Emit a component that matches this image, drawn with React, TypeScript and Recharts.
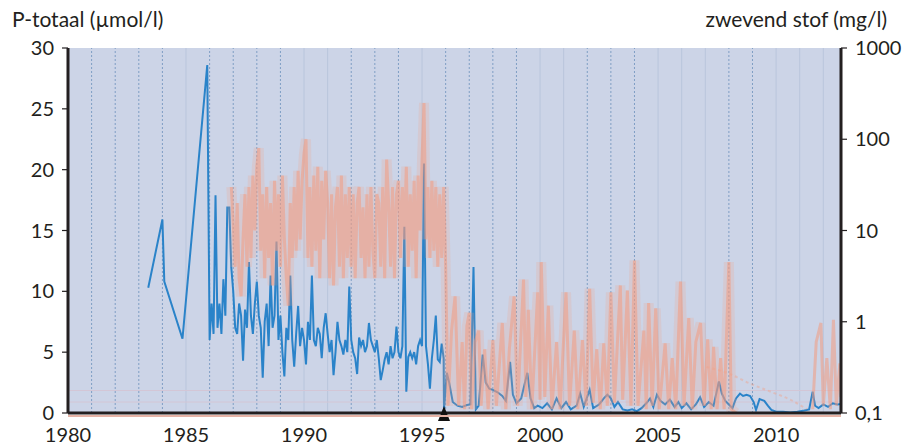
import { ComposedChart, Line, XAxis, YAxis, CartesianGrid, ReferenceLine, ReferenceDot } from 'recharts'

const yearTicks = [1980, 1985, 1990, 1995, 2000, 2005, 2010]
const pTicks = [0, 5, 10, 15, 20, 25, 30]
const stofTicks = [0.1, 1, 10, 100, 1000]

// jaren met gestippelde lijn, en jaren met een vage doorgetrokken lijn
const dashedYears = [1981, 1982, 1983, 1984, 1986, 1987, 1988, 1989, 1992, 1993, 1994, 1996, 1997, 1998, 1999, 2002, 2003, 2004, 2008, 2009]
const lightYears = [1985, 1990, 1991, 1995, 2000, 2001, 2005, 2006, 2007, 2010, 2011, 2012]

// P-totaal (umol/l): losse metingen voor 1986
const pEarly: [number, number][] = [
  [1983.4, 10.3], [1984.0, 15.9], [1984.08, 10.8], [1984.85, 6.1], [1985.9, 28.6],
]

// P-totaal 1986-1995, twaalf metingen per jaar
const pMonthlyFrom = 1986
const pMonthly: number[][] = [
  [6, 9, 6.5, 17.9, 7, 9, 6.5, 11, 8, 16.9, 16.9, 12],
  [10, 7, 6.5, 9, 8, 4.3, 8.5, 7, 12.4, 8, 6.5, 9],
  [10.8, 8, 7, 2.9, 7.5, 9, 5.5, 11.3, 7, 8, 14.1, 6],
  [8, 5, 3.0, 7, 6, 11.3, 6, 3.8, 6.5, 8.8, 5.5, 7],
  [6, 4.0, 7.5, 6, 11.3, 6, 5.5, 7, 6.5, 4.5, 7, 8.2],
  [6.5, 5, 6, 3.1, 5, 7.5, 6, 5.5, 4.8, 6, 5, 10.4],
  [6, 5, 4.5, 3.2, 6.2, 5.5, 6, 5, 5.5, 7.4, 6, 5.5],
  [5, 6, 4.5, 2.7, 3.5, 4.4, 5, 4, 5.5, 4.5, 5, 7.1],
  [5, 4.5, 5.5, 15.3, 1.75, 4.6, 5, 4.5, 5, 4, 5.5, 6],
  [5.5, 20.5, 5.5, 4, 2.0, 4.5, 6, 8, 4.4, 4.2, 5.7, 4.5],
]

// P-totaal vanaf 1996
const pLate: [number, number][] = [
  [1995.93, 0.3], [1996.05, 3.3], [1996.15, 2.5], [1996.3, 0.9], [1996.5, 0.6], [1996.7, 0.5],
  [1996.9, 0.65], [1997.05, 0.7], [1997.18, 12], [1997.28, 0.3], [1997.4, 0.6], [1997.57, 4.8],
  [1997.7, 2.5], [1997.85, 2.0], [1998.0, 1.9], [1998.2, 1.7], [1998.4, 1.4], [1998.55, 1.0],
  [1998.73, 4.2], [1998.85, 1.5], [1999.0, 0.8], [1999.2, 1.2], [1999.46, 3.3], [1999.6, 1.2],
  [1999.75, 0.4], [1999.9, 0.6], [2000.1, 0.4], [2000.3, 0.8], [2000.5, 0.3], [2000.7, 1.2],
  [2000.9, 0.4], [2001.1, 0.9], [2001.3, 0.3], [2001.55, 0.6], [2001.7, 1.6], [2001.85, 0.5],
  [2002.1, 1.9], [2002.25, 0.4], [2002.5, 0.7], [2002.7, 1.2], [2002.85, 1.5], [2003.0, 1.2],
  [2003.15, 0.5], [2003.3, 0.9], [2003.5, 0.3], [2003.7, 0.2], [2003.9, 0.3], [2004.1, 0.15],
  [2004.3, 0.4], [2004.5, 0.8], [2004.66, 1.2], [2004.8, 0.5], [2004.95, 1.5], [2005.1, 1.0],
  [2005.3, 0.7], [2005.5, 1.1], [2005.7, 0.5], [2005.86, 0.9], [2006.0, 0.4], [2006.2, 0.8],
  [2006.4, 0.3], [2006.6, 0.7], [2006.78, 1.3], [2006.95, 0.5], [2007.15, 0.9], [2007.35, 0.6],
  [2007.58, 2.6], [2007.7, 1.6], [2007.85, 1.0], [2008.0, 0.7], [2008.15, 0.4], [2008.3, 1.2],
  [2008.47, 1.6], [2008.6, 1.4], [2008.75, 1.5], [2008.9, 1.4], [2009.05, 0.9], [2009.15, 0.25],
  [2009.3, 1.15], [2009.5, 1.0], [2009.65, 0.6], [2009.8, 0.25], [2010.0, 0.1], [2010.3, 0.1],
  [2010.6, 0.05], [2010.9, 0.1], [2011.2, 0.2], [2011.4, 0.3], [2011.55, 1.75], [2011.65, 0.6],
  [2011.8, 0.4], [2012.0, 0.7], [2012.2, 0.5], [2012.4, 0.8], [2012.6, 0.7], [2012.75, 0.75],
]

// zwevend stof (mg/l)
const stofStart: [number, number][] = [[1986.92, 30]]
const stofMonthlyFrom = 1987
const stofMonthly: number[][] = [
  [12, 4, 20, 3, 1.9, 8, 25, 4, 30, 5, 40, 10],
  [50, 80, 6, 25, 3, 30, 5, 20, 2.5, 35, 6, 25],
  [4, 40, 8, 3, 1.5, 20, 5, 30, 6, 45, 8, 35],
  [70, 100, 5, 30, 4, 40, 6, 50, 3, 35, 8, 45],
  [20, 3, 25, 2.5, 18, 30, 4, 40, 3, 25, 5, 30],
  [4, 25, 3, 20, 30, 5, 18, 3, 25, 4, 30, 6],
  [3, 25, 20, 4, 30, 3, 60, 20, 4, 30, 3, 25],
  [35, 5, 30, 8, 50, 4, 25, 6, 35, 3, 40, 10],
  [60, 250, 8, 30, 5, 35, 6, 30, 4, 25, 5, 30],
]
const stofLate: [number, number][] = [
  [1996.0, 4], [1996.1, 0.12], [1996.25, 0.8], [1996.4, 1.9], [1996.55, 0.12], [1996.7, 0.6],
  [1996.8, 0.11], [1996.9, 0.9], [1997.0, 1.25], [1997.1, 0.11], [1997.25, 0.6], [1997.4, 0.8],
  [1997.5, 0.12], [1997.65, 0.5], [1997.8, 0.11], [1998.0, 0.63], [1998.15, 0.12], [1998.4, 0.97],
  [1998.55, 0.11], [1998.7, 0.5], [1998.9, 1.9], [1999.05, 0.12], [1999.3, 2.9], [1999.4, 0.15],
  [1999.5, 1.35], [1999.65, 0.11], [1999.9, 2.1], [2000.0, 0.14], [2000.05, 4.5], [2000.2, 0.15],
  [2000.35, 1.5], [2000.5, 0.11], [2000.7, 0.6], [2000.85, 0.11], [2001.1, 2.1], [2001.25, 0.12],
  [2001.45, 0.8], [2001.6, 0.11], [2001.8, 0.63], [2001.95, 0.12], [2002.1, 2.3], [2002.25, 0.13],
  [2002.4, 0.5], [2002.55, 0.11], [2002.7, 0.58], [2002.85, 0.12], [2003.0, 2.1], [2003.15, 0.13],
  [2003.4, 2.5], [2003.5, 0.14], [2003.7, 2.2], [2003.85, 0.12], [2004.0, 4.7], [2004.15, 0.12],
  [2004.4, 0.8], [2004.5, 0.11], [2004.6, 1.6], [2004.75, 0.12], [2004.9, 1.4], [2005.05, 0.11],
  [2005.3, 0.58], [2005.45, 0.11], [2005.6, 0.4], [2005.75, 0.11], [2005.95, 2.75], [2006.1, 0.12],
  [2006.3, 1.1], [2006.45, 0.11], [2006.6, 0.6], [2006.8, 0.97], [2006.95, 0.12], [2007.1, 0.64],
  [2007.25, 0.11], [2007.35, 0.53], [2007.5, 0.11], [2007.65, 0.4], [2007.8, 0.11], [2008.0, 4.5],
  [2008.1, 0.11], [2008.3, 0.1],
]
const stofEnd: [number, number][] = [
  [2011.55, 0.11], [2011.7, 0.6], [2011.9, 0.97], [2012.0, 0.12], [2012.15, 0.4], [2012.3, 0.11],
  [2012.43, 1.05], [2012.55, 0.12], [2012.7, 0.35], [2012.75, 0.15],
]
// vage stippellijn aan de onderkant na 2007
const stofLimit: [number, number][] = [
  [2007.05, 0.32], [2008.0, 0.27], [2008.9, 0.21], [2009.8, 0.17], [2010.6, 0.14], [2011.3, 0.11],
]

const fromMonthly = (from: number, rows: number[][]): [number, number][] =>
  rows.flatMap((row, r) => row.map((v, i) => [from + r + i / row.length, v] as [number, number]))

const pData = [...pEarly, ...fromMonthly(pMonthlyFrom, pMonthly), ...pLate].map(([t, p]) => ({ t, p }))
const stofData = [...stofStart, ...fromMonthly(stofMonthlyFrom, stofMonthly), ...stofLate].map(([t, s]) => ({ t, s }))
const stofEndData = stofEnd.map(([t, s]) => ({ t, s }))
const stofLimitData = stofLimit.map(([t, s]) => ({ t, s }))

const ink = '#231f20'
const font = 'Lato, "Open Sans", sans-serif'
const numStyle = { fontFamily: font, fontSize: 20, fill: ink }

const LeftTick = ({ x, y, payload }: any) => (
  <text x={x} y={y} dy={7} textAnchor="end" style={numStyle}>{payload.value}</text>
)
const RightTick = ({ x, y, payload }: any) => (
  <text x={x} y={y} dy={7} textAnchor="start" style={numStyle}>
    {payload.value === 0.1 ? '0,1' : payload.value}
  </text>
)
const BottomTick = ({ x, y, payload }: any) => (
  <text x={x} y={y} dy={29} textAnchor="middle" style={numStyle}>{payload.value}</text>
)

const Triangle = ({ cx, cy }: any) => (
  <path d={`M${cx - 6},${cy + 8} L${cx},${cy - 7} L${cx + 6},${cy + 8} Z`} fill="#111" />
)

export default function App() {
  return (
    <div style={{ position: 'absolute', left: 0, top: 0, width: 919, height: 445, background: '#fff', overflow: 'hidden' }}>
      <div style={{ position: 'absolute', left: 12, top: 6, fontFamily: font, fontSize: 21, color: ink }}>
        P-totaal (µmol/l)
      </div>
      <div style={{ position: 'absolute', right: 32, top: 6, fontFamily: font, fontSize: 21, color: ink }}>
        zwevend stof (mg/l)
      </div>
      <ComposedChart width={919} height={445} margin={{ top: 48, right: 0, bottom: 0, left: 0 }}>
        <CartesianGrid fill="#ccd4e7" horizontal={false} vertical={false} stroke="none" />
        <XAxis
          type="number"
          dataKey="t"
          domain={[1980, 2012.75]}
          ticks={yearTicks}
          allowDataOverflow
          height={32}
          tickSize={0}
          tickMargin={0}
          tickLine={false}
          axisLine={{ stroke: ink, strokeWidth: 3 }}
          tick={<BottomTick />}
        />
        <YAxis
          yAxisId="left"
          domain={[0, 30]}
          ticks={pTicks}
          width={68}
          tickSize={6}
          tickMargin={8}
          allowDataOverflow
          axisLine={{ stroke: ink, strokeWidth: 3 }}
          tickLine={{ stroke: ink, strokeWidth: 1.2 }}
          tick={<LeftTick />}
        />
        <YAxis
          yAxisId="right"
          orientation="right"
          scale="log"
          domain={[0.1, 1000]}
          ticks={stofTicks}
          width={78}
          tickSize={6}
          tickMargin={8}
          allowDataOverflow
          axisLine={{ stroke: ink, strokeWidth: 3 }}
          tickLine={{ stroke: ink, strokeWidth: 1.2 }}
          tick={<RightTick />}
        />
        {lightYears.map(yr => (
          <ReferenceLine key={'l' + yr} x={yr} yAxisId="left" stroke="#b9c5dc" strokeWidth={1} />
        ))}
        {dashedYears.map(yr => (
          <ReferenceLine key={'d' + yr} x={yr} yAxisId="left" stroke="#7f9ec4" strokeWidth={1} strokeDasharray="2 2" />
        ))}
        <ReferenceLine y={1.85} yAxisId="left" stroke="#d3c6d6" strokeWidth={1} />
        <ReferenceLine y={0.9} yAxisId="left" stroke="#d3c6d6" strokeWidth={1} />
        <Line
          yAxisId="left"
          data={pData}
          dataKey="p"
          type="linear"
          stroke="#2a83c9"
          strokeWidth={2}
          dot={false}
          isAnimationActive={false}
        />
        <Line
          yAxisId="right"
          data={stofData}
          dataKey="s"
          type="linear"
          stroke="#f3a488"
          strokeOpacity={0.22}
          strokeWidth={10}
          dot={false}
          isAnimationActive={false}
        />
        <Line
          yAxisId="right"
          data={stofData}
          dataKey="s"
          type="linear"
          stroke="#f29a80"
          strokeOpacity={0.55}
          strokeWidth={3}
          dot={false}
          isAnimationActive={false}
        />
        <Line
          yAxisId="right"
          data={stofEndData}
          dataKey="s"
          type="linear"
          stroke="#f29a80"
          strokeOpacity={0.55}
          strokeWidth={3}
          dot={false}
          isAnimationActive={false}
        />
        <Line
          yAxisId="right"
          data={stofLimitData}
          dataKey="s"
          type="monotone"
          stroke="#f0a48c"
          strokeOpacity={0.45}
          strokeWidth={2}
          strokeDasharray="3 3"
          dot={false}
          isAnimationActive={false}
        />
        <ReferenceDot x={1995.93} y={0} yAxisId="left" r={6} ifOverflow="visible" shape={<Triangle />} />
      </ComposedChart>
      <div style={{ position: 'absolute', left: 68, top: 415, width: 773, height: 2, background: '#e6b3a6' }} />
    </div>
  )
}
